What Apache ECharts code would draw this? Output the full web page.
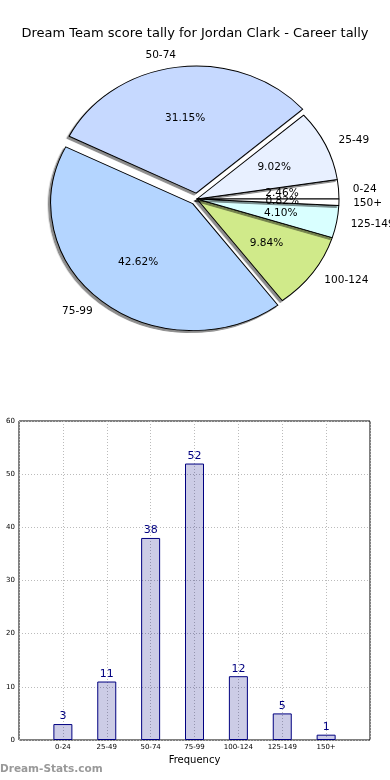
<!DOCTYPE html>
<html>
<head>
<meta charset="utf-8">
<script src="https://cdn.jsdelivr.net/npm/echarts@6/dist/echarts.min.js"></script>
<style>
html,body{margin:0;padding:0;background:#fff;overflow:hidden;width:390px;height:780px;}
#main{position:absolute;left:0;top:0;width:390px;height:780px;z-index:1;}
/* the reference pie is drawn on non-equal axes (an ellipse): stretch the pie layer horizontally */
#pie{position:absolute;left:0;top:0;width:390px;height:400px;z-index:2;transform:scaleX(1.118);transform-origin:197px 0;}
</style>
</head>
<body>
<div id="main"></div>
<div id="pie"></div>
<script>
// ---- data ----
const titleText = 'Dream Team score tally for Jordan Clark - Career tally';
const categories = ['0-24', '25-49', '50-74', '75-99', '100-124', '125-149', '150+'];
const counts = [3, 11, 38, 52, 12, 5, 1];
const sliceColors = ['#ffffff', '#e8f0ff', '#c6d9ff', '#b4d5ff', '#d0ea8a', '#d9ffff', '#ffffff'];
const explodedSlices = ['50-74', '75-99'];
const yTickMax = 60;
const yTickStep = 10;
const xAxisName = 'Frequency';
const watermark = 'Dream-Stats.com';

const total = counts.reduce((a, b) => a + b, 0);
const FONT = 'DejaVu Sans';
const PIE_FONT = 'DejaVu Sans Condensed'; // compensates for the horizontal stretch of the pie layer
const pieCenter = [197, 199];
const pieR = 127;
const explode = 6;

// ---- bar chart, title, watermark ----
const main = echarts.init(document.getElementById('main'), null, { renderer: 'canvas' });
main.setOption({
  animation: false,
  backgroundColor: '#fff',
  title: {
    text: titleText,
    left: 'center',
    top: 22,
    textStyle: { fontFamily: FONT, fontSize: 13, fontWeight: 'normal', color: '#000' }
  },
  graphic: [{
    type: 'text',
    left: 0,
    top: 764,
    style: { text: watermark, fontFamily: FONT, fontSize: 10.5, fontWeight: 'bold', fill: '#999' }
  }],
  grid: {
    left: 19, right: 20, top: 421, bottom: 40,
    show: true, borderColor: '#000', borderWidth: 1, backgroundColor: 'transparent'
  },
  xAxis: {
    type: 'value',
    min: -1, max: categories.length, interval: 1,
    name: xAxisName,
    nameLocation: 'middle',
    nameGap: 15,
    nameTextStyle: { fontFamily: FONT, fontSize: 10, color: '#000' },
    axisLine: { show: false },
    axisTick: { show: false },
    axisLabel: {
      fontFamily: FONT, fontSize: 7, color: '#000', margin: 4,
      formatter: v => (categories[v] !== undefined ? categories[v] : '')
    },
    splitLine: { show: true, lineStyle: { color: '#bbb', type: [1, 2], width: 1 } }
  },
  yAxis: {
    type: 'value',
    min: 0, max: yTickMax, interval: yTickStep,
    axisLine: { show: false },
    axisTick: { show: false },
    axisLabel: { fontFamily: FONT, fontSize: 7, color: '#000', margin: 4 },
    splitLine: { show: true, lineStyle: { color: '#bbb', type: [1, 2], width: 1 } }
  },
  series: [{
    type: 'bar',
    barWidth: 19,
    itemStyle: { color: 'rgba(0,0,128,0.2)', borderColor: '#000080', borderWidth: 1 },
    label: {
      show: true, position: 'top', distance: 2,
      fontFamily: FONT, fontSize: 11, color: '#000080'
    },
    emphasis: { disabled: true },
    data: counts.map((v, i) => [i, v])
  }]
});

// ---- pie ----
const pie = echarts.init(document.getElementById('pie'), null, { renderer: 'svg' });
const common = {
  type: 'pie',
  center: pieCenter,
  startAngle: 0,
  clockwise: false,
  avoidLabelOverlap: false,
  selectedMode: 'multiple',
  selectedOffset: explode,
  silent: true,
  emphasis: { disabled: true }
};
pie.setOption({
  animation: false,
  backgroundColor: 'transparent',
  series: [
    Object.assign({}, common, {
      radius: pieR,
      label: {
        show: true, position: 'outside', formatter: '{b}',
        fontFamily: PIE_FONT, fontSize: 10.5, color: '#000', distanceToLabelLine: 0
      },
      labelLine: { show: false, length: pieR * 0.1, length2: 0 },
      itemStyle: {
        borderColor: '#000', borderWidth: 0.9,
        shadowColor: 'rgba(0,0,0,0.45)', shadowBlur: 0, shadowOffsetX: -2, shadowOffsetY: 2
      },
      data: categories.map((c, i) => ({
        name: c, value: counts[i], selected: explodedSlices.includes(c),
        itemStyle: { color: sliceColors[i] }
      }))
    }),
    Object.assign({}, common, {
      radius: pieR * 0.6,
      z: 3,
      itemStyle: { color: 'rgba(0,0,0,0)', borderWidth: 0 },
      label: {
        show: true, position: 'outside',
        formatter: p => (p.value / total * 100).toFixed(2) + '%',
        fontFamily: PIE_FONT, fontSize: 10.5, color: '#000', distanceToLabelLine: 0
      },
      labelLine: { show: false, length: 0, length2: 0 },
      labelLayout: { align: 'center', verticalAlign: 'middle', hideOverlap: false },
      data: categories.map((c, i) => ({
        name: c, value: counts[i], selected: explodedSlices.includes(c),
        itemStyle: { color: 'rgba(0,0,0,0)' }
      }))
    })
  ]
});
</script>
</body>
</html>
